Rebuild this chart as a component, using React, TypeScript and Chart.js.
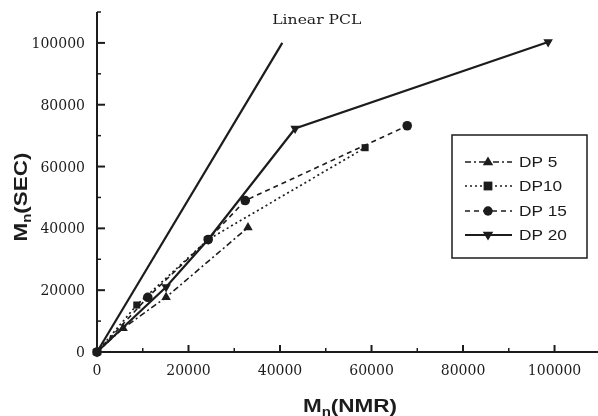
import { useEffect, useRef } from 'react';
import { Chart, registerables } from 'chart.js';

Chart.register(...registerables);

// ---- data ----
const dp5X = [0, 5700, 15100, 33000];
const dp5Y = [0, 7700, 17700, 40300];
const dp10X = [0, 8700, 24300, 58600];
const dp10Y = [0, 15200, 36400, 66100];
const dp15X = [0, 11100, 24300, 32400, 67800];
const dp15Y = [0, 17700, 36400, 49000, 73200];
const dp20X = [0, 15100, 24300, 43300, 98600];
const dp20Y = [0, 21000, 36400, 72300, 100300];
const linearX = [0, 40500];
const linearY = [0, 100000];

const seriesLabels = ['DP 5', 'DP10', 'DP 15', 'DP 20'];
const linearLabel = 'Linear PCL';
const xTitle = ['M', 'n', '(NMR)'];
const yTitle = ['M', 'n', '(SEC)'];
const xTickLabels = [0, 20000, 40000, 60000, 80000, 100000];
const yTickLabels = [0, 20000, 40000, 60000, 80000, 100000];
const xMax = 109500;
const yMax = 110000;
const minorStep = 10000;
const majorStep = 20000;

const INK = '#1c1c1c';

const pts = (xs: number[], ys: number[]) => xs.map((x, i) => ({ x, y: ys[i] }));

type Seg = { text: string; font: string; dy: number };

function drawSegs(ctx: CanvasRenderingContext2D, segs: Seg[], stretch: number, align: 'center' | 'left' | 'right') {
  ctx.textAlign = 'left';
  ctx.textBaseline = 'alphabetic';
  let total = 0;
  const widths = segs.map((s) => {
    ctx.font = s.font;
    const w = ctx.measureText(s.text).width;
    total += w;
    return w;
  });
  ctx.save();
  ctx.scale(stretch, 1);
  let cx = align === 'center' ? -total / 2 : align === 'right' ? -total : 0;
  segs.forEach((s, i) => {
    ctx.font = s.font;
    ctx.fillText(s.text, cx, s.dy);
    cx += widths[i];
  });
  ctx.restore();
}

function marker(ctx: CanvasRenderingContext2D, kind: string, x: number, y: number, r: number) {
  ctx.beginPath();
  if (kind === 'triangle') {
    ctx.moveTo(x, y - r);
    ctx.lineTo(x + r * 0.95, y + r * 0.6);
    ctx.lineTo(x - r * 0.95, y + r * 0.6);
    ctx.closePath();
  } else if (kind === 'down') {
    ctx.moveTo(x, y + r);
    ctx.lineTo(x + r * 0.95, y - r * 0.6);
    ctx.lineTo(x - r * 0.95, y - r * 0.6);
    ctx.closePath();
  } else if (kind === 'rect') {
    ctx.rect(x - r * 0.8, y - r * 0.8, r * 1.6, r * 1.6);
  } else {
    ctx.arc(x, y, r * 0.85, 0, Math.PI * 2);
  }
  ctx.fill();
}

const decorPlugin = {
  id: 'decor',
  afterDatasetsDraw(chart: any) {
    const ctx: CanvasRenderingContext2D = chart.ctx;
    const xs = chart.scales.x;
    const ys = chart.scales.y;
    const x0 = xs.getPixelForValue(0);
    const y0 = ys.getPixelForValue(0);
    const area = chart.chartArea;
    ctx.save();
    ctx.strokeStyle = INK;
    ctx.fillStyle = INK;

    // axis lines
    ctx.lineWidth = 2;
    ctx.beginPath();
    ctx.moveTo(x0, ys.getPixelForValue(yMax));
    ctx.lineTo(x0, y0);
    ctx.lineTo(area.right, y0);
    ctx.stroke();

    // inward tick marks
    for (let v = 0; v <= yMax; v += minorStep) {
      const major = v % majorStep === 0;
      const py = ys.getPixelForValue(v);
      ctx.lineWidth = major ? 2 : 1.5;
      ctx.beginPath();
      ctx.moveTo(x0, py);
      ctx.lineTo(x0 + (major ? 8 : 4), py);
      ctx.stroke();
      if (v > 0 && v < xMax) {
        const px = xs.getPixelForValue(v);
        ctx.beginPath();
        ctx.moveTo(px, y0);
        ctx.lineTo(px, y0 - (major ? 7 : 4));
        ctx.stroke();
      }
    }

    // tick labels
    ctx.font = '14px "DejaVu Serif"';
    ctx.textBaseline = 'alphabetic';
    ctx.textAlign = 'center';
    xTickLabels.forEach((v) => {
      ctx.fillText(String(v), xs.getPixelForValue(v), y0 + 23);
    });
    ctx.textAlign = 'right';
    yTickLabels.forEach((v) => {
      ctx.fillText(String(v), x0 - 12, ys.getPixelForValue(v) + 5);
    });

    // "Linear PCL" label
    ctx.save();
    ctx.translate(xs.getPixelForValue(38300), ys.getPixelForValue(106100));
    drawSegs(ctx, [{ text: linearLabel, font: '13px "DejaVu Serif"', dy: 0 }], 1.2, 'left');
    ctx.restore();

    // axis titles
    ctx.save();
    ctx.translate(350, 412);
    drawSegs(
      ctx,
      [
        { text: xTitle[0], font: 'bold 18px "Liberation Sans"', dy: 0 },
        { text: xTitle[1], font: 'bold 12px "Liberation Sans"', dy: 4 },
        { text: xTitle[2], font: 'bold 18px "Liberation Sans"', dy: 0 },
      ],
      1.25,
      'center'
    );
    ctx.restore();

    ctx.save();
    ctx.translate(27, 197);
    ctx.rotate(-Math.PI / 2);
    drawSegs(
      ctx,
      [
        { text: yTitle[0], font: 'bold 18px "Liberation Sans"', dy: 0 },
        { text: yTitle[1], font: 'bold 12px "Liberation Sans"', dy: 4 },
        { text: yTitle[2], font: 'bold 18px "Liberation Sans"', dy: 0 },
      ],
      1.25,
      'center'
    );
    ctx.restore();

    // legend
    const bx = 452, by = 135, bw = 135, bh = 123;
    ctx.fillStyle = '#ffffff';
    ctx.fillRect(bx, by, bw, bh);
    ctx.fillStyle = INK;
    ctx.lineWidth = 1.5;
    ctx.setLineDash([]);
    ctx.strokeRect(bx, by, bw, bh);
    const rowsY = [162, 186, 211, 235];
    chart.data.datasets.slice(0, 4).forEach((ds: any, i: number) => {
      const cy = rowsY[i];
      ctx.lineWidth = ds.borderWidth;
      ctx.setLineDash(ds.borderDash || []);
      ctx.beginPath();
      ctx.moveTo(465, cy);
      ctx.lineTo(512, cy);
      ctx.stroke();
      ctx.setLineDash([]);
      marker(ctx, ds._mk, 488, cy, 5.5);
      ctx.save();
      ctx.translate(519, cy + 5);
      drawSegs(ctx, [{ text: seriesLabels[i], font: '15px "Liberation Sans"', dy: 0 }], 1.15, 'left');
      ctx.restore();
    });
    ctx.restore();
  },
};

export default function App() {
  const ref = useRef<HTMLCanvasElement | null>(null);

  useEffect(() => {
    if (!ref.current) return;
    const common = {
      borderColor: INK,
      backgroundColor: INK,
      pointBackgroundColor: INK,
      pointBorderColor: INK,
      pointBorderWidth: 0,
      pointRadius: 5.5,
      showLine: true,
      tension: 0,
      fill: false,
      clip: false,
    };
    const chart = new Chart(ref.current, {
      type: 'scatter',
      data: {
        datasets: [
          { ...common, label: seriesLabels[0], data: pts(dp5X, dp5Y), borderWidth: 1.6, borderDash: [6, 3, 2, 3], pointStyle: 'triangle', _mk: 'triangle' } as any,
          { ...common, label: seriesLabels[1], data: pts(dp10X, dp10Y), borderWidth: 1.7, borderDash: [2, 3], pointStyle: 'rect', pointRadius: 5, _mk: 'rect' } as any,
          { ...common, label: seriesLabels[2], data: pts(dp15X, dp15Y), borderWidth: 1.6, borderDash: [5, 4], pointStyle: 'circle', pointRadius: 4.8, _mk: 'circle' } as any,
          { ...common, label: seriesLabels[3], data: pts(dp20X, dp20Y), borderWidth: 2.2, borderDash: [], pointStyle: 'triangle', pointRotation: 180, _mk: 'down' } as any,
          { ...common, label: linearLabel, data: pts(linearX, linearY), borderWidth: 2.2, pointRadius: 0 } as any,
        ],
      },
      options: {
        responsive: false,
        animation: false,
        layout: { autoPadding: false, padding: { top: 12, left: 0, right: 0, bottom: 0 } },
        plugins: { legend: { display: false }, tooltip: { enabled: false } },
        scales: {
          x: {
            type: 'linear',
            min: 0,
            max: xMax,
            grid: { display: false },
            border: { display: false },
            ticks: { display: false, stepSize: minorStep },
            afterFit: (s: any) => {
              s.height = 64;
            },
          },
          y: {
            type: 'linear',
            min: 0,
            max: yMax,
            grid: { display: false },
            border: { display: false },
            ticks: { display: false, stepSize: minorStep },
            afterFit: (s: any) => {
              s.width = 97;
            },
          },
        },
      } as any,
      plugins: [decorPlugin],
    });
    return () => chart.destroy();
  }, []);

  return (
    <div style={{ position: 'fixed', left: 0, top: 0, width: 598, height: 416, background: '#fff' }}>
      <canvas ref={ref} width={598} height={416} style={{ display: 'block', width: 598, height: 416 }} />
    </div>
  );
}
